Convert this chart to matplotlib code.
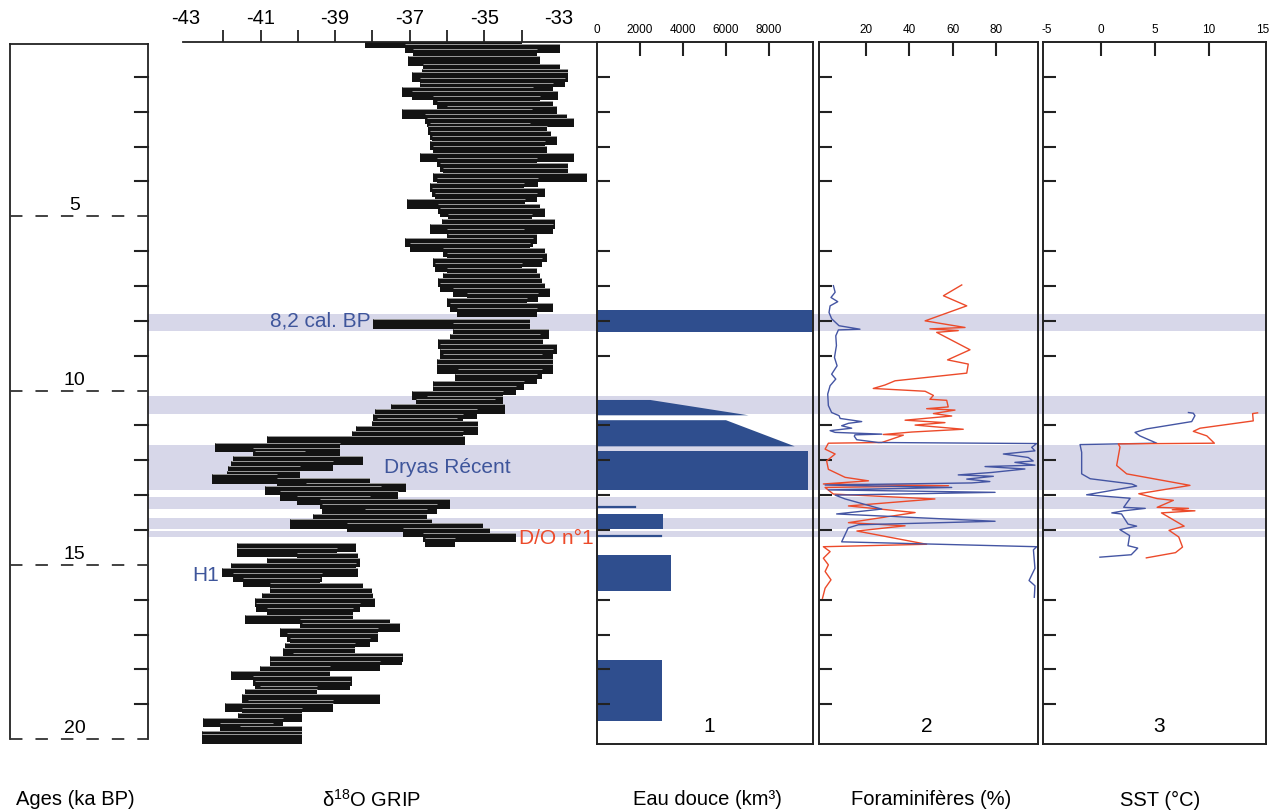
import matplotlib
matplotlib.use('Agg')
import matplotlib.pyplot as plt
import numpy as np

plt.rcParams['font.family'] = ['Liberation Sans', 'DejaVu Sans']
plt.rcParams['mathtext.fontset'] = 'custom'
plt.rcParams['mathtext.rm'] = 'Liberation Sans'
plt.rcParams['mathtext.it'] = 'Liberation Sans:italic'
plt.rcParams['mathtext.bf'] = 'Liberation Sans:bold'

# ---------------- data ----------------
# GRIP d18O: each bar spans from a cold (left) to a warm (right) value at an age (ka BP)
grip_age = [0.05, 0.18, 0.34, 0.55, 0.77, 0.92, 1.01, 1.16, 1.30, 1.44,
            1.54, 1.68, 1.83, 1.97, 2.07, 2.21, 2.31, 2.45, 2.54, 2.69,
            2.83, 2.97, 3.12, 3.31, 3.45, 3.60, 3.74, 3.88, 4.03, 4.17,
            4.31, 4.46, 4.65, 4.79, 4.89, 5.08, 5.22, 5.37, 5.51, 5.65,
            5.75, 5.89, 6.04, 6.18, 6.32, 6.47, 6.61, 6.75, 6.90, 7.04,
            7.18, 7.33, 7.47, 7.61, 7.76, 8.09, 8.19, 8.38, 8.52, 8.67,
            8.81, 8.95, 9.10, 9.24, 9.38, 9.53, 9.67, 9.86,
            10.00, 10.15, 10.29, 10.39, 10.53, 10.67, 10.82, 10.91, 11.01, 11.15,
            11.30, 11.44, 11.63, 11.77, 11.87, 12.01, 12.16, 12.30, 12.44, 12.54,
            12.64, 12.78, 12.87, 13.02, 13.16, 13.26, 13.40, 13.54, 13.69, 13.83,
            13.93, 14.07, 14.21, 14.36, 14.50, 14.64, 14.79, 14.93, 15.07, 15.22,
            15.36, 15.50, 15.65, 15.79, 15.93, 16.08, 16.22, 16.37, 16.56, 16.70,
            16.80, 16.94, 17.08, 17.23, 17.37, 17.51, 17.66, 17.75, 17.90, 18.04,
            18.18, 18.33, 18.47, 18.61, 18.71, 18.85, 19.00, 19.09, 19.24, 19.38,
            19.52, 19.67, 19.76, 19.90, 20.00]
grip_left = [-38.20, -37.13, -36.90, -37.04, -36.64, -36.68, -36.95, -36.73, -36.73, -37.22,
             -36.95, -36.37, -36.28, -36.01, -37.22, -36.59, -36.55, -36.46, -36.50, -36.46,
             -36.41, -36.46, -36.37, -36.73, -36.28, -36.19, -36.10, -36.37, -36.28, -36.46,
             -36.41, -36.32, -37.08, -36.23, -36.19, -35.97, -36.14, -36.46, -36.01, -35.97,
             -37.13, -36.99, -36.10, -36.01, -36.37, -36.32, -36.01, -36.10, -36.23, -36.19,
             -35.83, -35.47, -36.01, -35.92, -35.74, -37.98, -35.83, -35.83, -35.92, -36.23,
             -36.19, -36.19, -36.10, -36.28, -36.28, -35.70, -35.79, -36.37,
             -36.37, -36.95, -36.55, -36.82, -37.49, -37.93, -37.98, -37.89, -38.02, -38.43,
             -38.56, -40.84, -42.22, -41.20, -41.15, -41.73, -41.78, -41.87, -41.91, -42.31,
             -40.57, -39.77, -40.88, -40.48, -40.03, -39.41, -39.36, -38.20, -39.59, -40.21,
             -38.69, -37.17, -36.64, -36.59, -41.64, -41.64, -40.03, -40.84, -41.78, -42.04,
             -41.73, -41.46, -40.75, -40.75, -40.97, -41.15, -41.11, -40.84, -41.42, -39.94,
             -39.90, -40.48, -40.30, -40.21, -40.35, -40.39, -40.12, -40.75, -40.75, -41.02,
             -41.78, -41.20, -41.15, -41.02, -41.42, -41.51, -41.33, -41.96, -41.51, -41.60,
             -42.54, -42.09, -41.55, -42.58, -42.58]
grip_right = [-34.00, -32.97, -33.60, -33.51, -32.97, -32.75, -32.75, -32.84, -33.15, -33.69,
              -33.02, -33.51, -33.15, -33.06, -33.73, -32.79, -32.61, -33.78, -33.33, -33.20,
              -33.06, -33.37, -33.33, -32.61, -33.60, -32.75, -32.75, -32.26, -33.55, -33.95,
              -33.37, -33.60, -33.91, -33.51, -33.37, -33.73, -33.11, -33.15, -33.95, -33.60,
              -33.69, -33.78, -33.37, -33.33, -33.46, -34.00, -33.60, -33.51, -33.46, -33.37,
              -33.24, -33.55, -33.87, -33.15, -33.60, -33.78, -33.78, -33.28, -33.51, -33.42,
              -33.06, -33.15, -33.46, -33.15, -33.15, -33.46, -33.60, -33.95,
              -34.14, -34.49, -34.49, -34.72, -34.45, -35.21, -35.57, -35.74, -35.16, -35.16,
              -35.57, -35.52, -38.87, -38.87, -39.81, -38.25, -39.05, -39.94, -39.94, -40.57,
              -38.07, -37.09, -37.76, -37.31, -38.07, -35.92, -36.28, -36.55, -36.55, -36.41,
              -35.03, -34.85, -34.14, -35.79, -38.43, -38.96, -38.38, -38.34, -38.43, -38.38,
              -39.36, -39.41, -38.25, -38.02, -37.98, -37.93, -38.34, -38.51, -38.51, -37.53,
              -37.26, -37.84, -37.84, -38.07, -38.47, -38.47, -37.17, -37.22, -37.80, -39.14,
              -39.14, -38.56, -38.60, -39.50, -39.50, -37.80, -39.05, -39.05, -39.90, -39.90,
              -40.39, -40.66, -39.90, -39.90, -39.90]
grip_ticklabels = [-43, -41, -39, -37, -35, -33]

# Cold events (grey bands), ka BP
band_top = [7.79, 10.17, 11.56, 13.06, 13.66, 14.03]
band_bottom = [8.30, 10.68, 12.85, 13.40, 13.97, 14.19]

# Panel 1: freshwater discharge (km3) blocks: top age, bottom age, value at top, value at bottom
eau_top = [7.70, 10.27, 10.85, 11.74, 13.54, 14.72, 17.74]
eau_bottom = [8.32, 10.71, 11.60, 12.84, 13.96, 15.75, 19.48]
eau_val_top = [10500, 2480, 6000, 9800, 3050, 3450, 3020]
eau_val_bottom = [10500, 7050, 9200, 9800, 3050, 3450, 3020]
eau_pulse_age = [13.34, 14.17]
eau_pulse_val = [1770, 3000]

# Panel 2: foraminifera (%)
foram_blue_age = [6.99, 7.18, 7.33, 7.45, 7.57, 7.76, 7.94, 8.14, 8.24, 8.26, 8.43, 8.71, 9.05,
                  9.29, 9.53, 9.67, 9.86, 10.10, 10.43, 10.63, 10.72, 10.80, 10.89, 10.94, 11.01,
                  11.08, 11.15, 11.20, 11.25, 11.27, 11.31, 11.41, 11.49, 11.52, 11.63, 11.73,
                  11.82, 11.92, 12.02, 12.06, 12.14, 12.18, 12.25, 12.35, 12.42, 12.46, 12.54,
                  12.61, 12.65, 12.71, 12.78, 12.85, 12.92, 13.00, 13.11, 13.40, 13.54, 13.75,
                  13.85, 13.94, 14.34, 14.48, 14.57, 15.10, 15.45, 15.60, 15.93]
foram_blue_val = [5.2, 6, 4.1, 7.2, 3.7, 3.2, 4.4, 7.8, 17.4, 7.5, 6.3, 6.6, 5.7,
                  6.9, 4.4, 6.3, 3.7, 2.6, 2.9, 4.4, 7.8, 8.3, 18.2, 12.1, 9,
                  13.6, 3.7, 6, 27.4, 15.1, 14.8, 15.9, 25.8, 98.5, 96.2, 97.7,
                  83.2, 94.6, 96.9, 88.5, 97.7, 74.8, 93.1, 77.8, 62.5, 78.6, 66.4,
                  77, 68.6, 1.4, 59.5, 2.9, 79.4, 6, 10.6, 27.4, 6.7, 79.4,
                  16.7, 12, 9, 98.5, 97, 97.7, 95, 97.7, 97.4]
foram_red_age = [6.97, 7.28, 7.57, 8.00, 8.19, 8.23, 8.28, 8.33, 8.83, 9.12, 9.24, 9.50, 9.72,
                 9.84, 9.94, 10.02, 10.14, 10.25, 10.28, 10.47, 10.52, 10.56, 10.66, 10.73,
                 10.85, 10.92, 10.99, 11.11, 11.19, 11.26, 11.28, 11.49, 11.51, 11.68, 11.82,
                 12.02, 12.26, 12.49, 12.59, 12.68, 12.73, 12.78, 12.97, 13.11, 13.31, 13.50,
                 13.79, 13.88, 14.03, 14.41, 14.48, 14.62, 14.81, 15.00, 15.19, 15.43, 15.67, 15.96]
foram_red_val = [64.1, 55.7, 66.4, 47.3, 65.6, 49.5, 62.5, 52.6, 67.9, 57.6, 67.1, 66.4, 33.5,
                 28.9, 23.5, 47.3, 51.1, 49.5, 57.2, 57.9, 48, 61, 51.1, 59.5,
                 38.1, 56.4, 42.7, 64.8, 41.1, 28.1, 37.3, 27.4, 2.9, 1.4, 6,
                 2.1, 2.9, 10.6, 21.3, 0.6, 58, 1.4, 5.2, 51.8, 12.1, 42.7,
                 12.1, 38.1, 16, 48, 0.6, 3.7, 0.6, 2.9, 1.4, 4.1, 1.4, 0.2]

# Panel 3: SST (deg C)
sst_blue_age = [10.63, 10.65, 10.72, 10.89, 11.10, 11.20, 11.30, 11.51, 11.55, 11.77, 12.39,
                12.53, 12.68, 12.74, 12.99, 13.09, 13.35, 13.38, 13.45, 13.51, 13.54, 13.83,
                13.89, 13.99, 14.16, 14.45, 14.52, 14.71, 14.78]
sst_blue_val = [8.1, 8.55, 8.7, 8.4, 4.23, 3.15, 3.6, 5.16, -1.94, -1.79, -1.79,
                -1.0, 2.85, 3.3, -1.33, 2.7, 2.1, 4.1, 2.1, 1.0, 1.9, 2.5,
                3.3, 1.75, 2.65, 2.5, 3.4, 2.8, -0.1]
sst_red_age = [10.64, 10.66, 10.87, 11.08, 11.17, 11.30, 11.51, 11.53, 11.62, 12.15, 12.39,
               12.72, 12.96, 13.10, 13.15, 13.35, 13.38, 13.42, 13.45, 13.51, 13.89, 14.01,
               14.20, 14.49, 14.65, 14.80]
sst_red_val = [14.5, 14.04, 14.1, 9.17, 8.55, 9.8, 10.5, 1.6, 1.76, 1.45, 2.38,
               8.24, 3.5, 5.2, 6.7, 5.2, 8.1, 6.6, 8.7, 5.6, 7.7, 6.3,
               7.2, 7.55, 6.9, 4.2]

# ---------------- styles ----------------
W, H = 1283, 812
AGE_LIM = (20.14, 0)
INK = '#222222'
BAND = '#D7D7E9'
FILL_BLUE = '#2F4E8E'
TXT_BLUE = '#3E559B'
LINE_BLUE = '#4455A3'
LINE_RED = '#EC4A2A'
BAR_H = 0.27

fig = plt.figure(figsize=(W / 100, H / 100), dpi=100)


def axpix(x0, x1, y0, y1, z=1):
    ax = fig.add_axes([x0 / W, 1 - y1 / H, (x1 - x0) / W, (y1 - y0) / H])
    ax.set_zorder(z)
    ax.set_facecolor('none')
    ax.set_ylim(*AGE_LIM)
    ax.xaxis.remove_overlapping_locs = False
    ax.yaxis.remove_overlapping_locs = False
    return ax


# background bands
bg = axpix(148, 1266, 43, 745, z=0)
bg.set_xlim(0, 1)
bg.axis('off')
for t, b in zip(band_top, band_bottom):
    bg.axhspan(t, b, color=BAND, lw=0)

# age box
lb = axpix(10, 148, 43, 745)
lb.set_xlim(0, 1)
lb.axis('off')
kw = dict(color=INK, lw=1.3, clip_on=False)
lb.plot([0, 0], [0.06, 20], **kw)
lb.plot([1, 1], [0.06, 20], **kw)
lb.plot([0, 1], [0.06, 0.06], **kw)
for a in range(1, 20):
    if a % 5:
        lb.plot([0.905, 1], [a, a], color=INK, lw=1.5, clip_on=False)
for a in [5, 10, 15, 20]:
    lb.plot([0, 1], [a, a], color='#333333', lw=1.3, ls=(0, (6.9, 7.2)), clip_on=False)
    lb.text(0.47, a - 0.08, str(a), ha='center', va='bottom', fontsize=14)

# GRIP
g = axpix(183, 597, 43, 745)
g.set_xlim(-43.08, -31.98)
for s in ['left', 'right', 'bottom']:
    g.spines[s].set_visible(False)
g.spines['top'].set_linewidth(1.3)
g.spines['top'].set_color(INK)
for i, (a, lo, hi) in enumerate(zip(grip_age, grip_left, grip_right)):
    g.barh(a, hi - lo, left=lo, height=BAR_H, color='#131313', lw=0, zorder=2 + i * 0.001)
    g.plot([lo, hi], [a - BAR_H / 2, a - BAR_H / 2], color='#e6e6e6', lw=0.45,
           zorder=2 + i * 0.001 + 0.0005, solid_capstyle='butt')
g.xaxis.set_ticks_position('top')
g.set_xticks(grip_ticklabels)
g.set_xticklabels([str(v) for v in grip_ticklabels])
g.set_xticks(list(range(-42, -33)), minor=True)
g.tick_params(axis='x', which='major', length=0, pad=11, labelsize=14.5,
              top=True, bottom=False, labeltop=True, labelbottom=False)
g.tick_params(axis='x', which='minor', length=8.5, width=1.3, direction='out',
              top=True, bottom=False, color=INK)
g.set_yticks([])
g.text(-38.05, 7.98, '8,2 cal. BP', ha='right', va='center', color=TXT_BLUE, fontsize=15)
g.text(-36.0, 12.17, 'Dryas Récent', ha='center', va='center', color=TXT_BLUE, fontsize=15)
g.text(-34.07, 14.22, 'D/O n°1', ha='left', va='center', color=LINE_RED, fontsize=15)
g.text(-42.12, 15.28, 'H1', ha='right', va='center', color=TXT_BLUE, fontsize=15)


def style_panel(ax, xlim, major, minor, label, lx):
    ax.set_xlim(*xlim)
    for s in ax.spines.values():
        s.set_linewidth(1.4)
        s.set_color(INK)
    ax.xaxis.set_ticks_position('top')
    ax.set_xticks(major)
    ax.set_xticklabels([str(v) for v in major])
    ax.set_xticks(minor, minor=True)
    ax.tick_params(axis='x', which='major', length=0, pad=5, labelsize=8.5,
                   top=True, bottom=False, labeltop=True, labelbottom=False)
    ax.tick_params(axis='x', which='minor', length=10, width=1.5, direction='in',
                   top=True, bottom=False, color=INK)
    ax.set_yticks([a for a in range(1, 20) if a % 5])
    ax.set_yticklabels([])
    ax.tick_params(axis='y', which='major', length=9.5, width=1.5, direction='in',
                   left=True, right=False, color=INK)
    ax.text(lx, 0.026, label, transform=ax.transAxes, ha='center', va='center', fontsize=15)


# Panel 1
p1 = axpix(597, 813, 43, 745)
for t, b, vt, vb in zip(eau_top, eau_bottom, eau_val_top, eau_val_bottom):
    p1.fill([0, vt, vb, 0], [t, t, b, b], color=FILL_BLUE, lw=0)
for a, v in zip(eau_pulse_age, eau_pulse_val):
    p1.plot([0, v], [a, a], color=FILL_BLUE, lw=1.6)
style_panel(p1, (0, 10050), [0, 2000, 4000, 6000, 8000], [2000, 4000, 6000, 8000], '1', 0.52)

# Panel 2
p2 = axpix(819, 1038, 43, 745)
p2.plot(foram_red_val, foram_red_age, color=LINE_RED, lw=1.0)
p2.plot(foram_blue_val, foram_blue_age, color=LINE_BLUE, lw=1.0)
style_panel(p2, (-1.4, 99.1), [20, 40, 60, 80], [20, 40, 60, 80], '2', 0.49)

# Panel 3
p3 = axpix(1043, 1266, 43, 745)
p3.plot(sst_blue_val, sst_blue_age, color=LINE_BLUE, lw=1.0)
p3.plot(sst_red_val, sst_red_age, color=LINE_RED, lw=1.0)
style_panel(p3, (-5.37, 15.28), [-5, 0, 5, 10, 15], [0, 5, 10], '3', 0.52)

# bottom labels
for x, s in [(75, 'Ages (ka BP)'), (371, r'δ$^{18}$O GRIP'), (707, 'Eau douce (km³)'),
             (931, 'Foraminifères (%)'), (1160, 'SST (°C)')]:
    fig.text(x / W, 1 - 800 / H, s, ha='center', va='center', fontsize=14.5)

fig.savefig('out.png', dpi=100)
